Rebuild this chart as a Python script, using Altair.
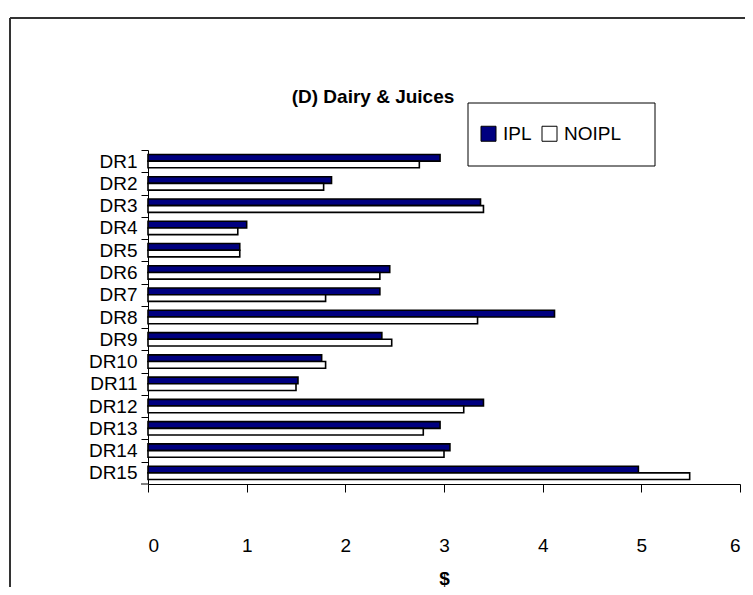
import altair as alt
import pandas as pd

categories = ["DR1", "DR2", "DR3", "DR4", "DR5", "DR6", "DR7", "DR8",
              "DR9", "DR10", "DR11", "DR12", "DR13", "DR14", "DR15"]
ipl = [2.96, 1.86, 3.37, 1.00, 0.93, 2.45, 2.35, 4.12, 2.37, 1.76, 1.52, 3.40, 2.96, 3.06, 4.97]
noipl = [2.75, 1.78, 3.40, 0.91, 0.93, 2.35, 1.80, 3.34, 2.47, 1.80, 1.50, 3.20, 2.79, 3.00, 5.49]
series = ["IPL", "NOIPL"]
series_colors = ["#000080", "#ffffff"]
x_ticks = [0, 1, 2, 3, 4, 5, 6]
title_text = "(D) Dairy & Juices"

rows = []
for c, a, b in zip(categories, ipl, noipl):
    rows.append({"cat": c, "series": series[0], "value": a})
    rows.append({"cat": c, "series": series[1], "value": b})
df = pd.DataFrame(rows)
one = pd.DataFrame({"title": [title_text]})

W, H = 592, 334
step = H / len(categories)
FONT = "Liberation Sans"
FS = 19

bars = alt.Chart(df).mark_bar(stroke="black", strokeWidth=1.6).encode(
    x=alt.X("value:Q",
            scale=alt.Scale(domain=[0, 6], nice=False, zero=True),
            axis=alt.Axis(values=x_ticks, title="$", format="d", grid=False,
                          tickSize=8, labelPadding=44, labelFontSize=FS,
                          labelFont=FONT, titleFont=FONT, titleFontSize=FS,
                          titleFontWeight="bold", titlePadding=14,
                          domainColor="black", tickColor="black",
                          labelColor="black", titleColor="black")),
    y=alt.Y("cat:N", sort=categories,
            scale=alt.Scale(paddingInner=0.4, paddingOuter=0.2),
            axis=alt.Axis(title=None, tickSize=7, labelPadding=4,
                          labelAlign="right", labelBaseline="middle",
                          labelFontSize=FS, labelFont=FONT, labelColor="black",
                          tickOffset=-step / 2, labelOffset=step / 2,
                          domainColor="black", tickColor="black")),
    yOffset=alt.YOffset("series:N", sort=series),
    fill=alt.Color("series:N", sort=series,
                   scale=alt.Scale(domain=series, range=series_colors),
                   legend=alt.Legend(title=None, orient="none", direction="horizontal",
                                     legendX=331, legendY=-26,
                                     symbolType="square", symbolSize=225,
                                     symbolStrokeColor="black", symbolStrokeWidth=1,
                                     symbolOpacity=1,
                                     labelFont=FONT, labelFontSize=FS, labelColor="black",
                                     labelOffset=5, columnPadding=8,
                                     padding=0)),
)

legend_box = alt.Chart(one).mark_rect(fill="white", stroke="black", strokeWidth=1).encode(
    x=alt.value(320), x2=alt.value(507), y=alt.value(-47), y2=alt.value(16))
title_mark = alt.Chart(one).mark_text(
    font=FONT, fontSize=FS, fontWeight="bold", color="black",
    align="center", baseline="middle").encode(
    text="title:N", x=alt.value(225), y=alt.value(-53))
bottom_tick = alt.Chart(one).mark_rule(color="black", strokeWidth=1).encode(
    x=alt.value(-7), x2=alt.value(0), y=alt.value(H))
border_top = alt.Chart(one).mark_rule(color="#333333", strokeWidth=2).encode(
    x=alt.value(-138), x2=alt.value(620), y=alt.value(-132))
border_left = alt.Chart(one).mark_rule(color="#333333", strokeWidth=2).encode(
    x=alt.value(-138), y=alt.value(-132), y2=alt.value(460))

chart = alt.layer(border_top, border_left, legend_box, bars, title_mark, bottom_tick).properties(
    width=W, height=H,
    autosize=alt.AutoSizeParams(type="none"),
    padding={"left": 140, "top": 142, "right": 5, "bottom": 103},
).configure_view(stroke=None)

chart.save("out.html", embed_options={"renderer": "svg", "actions": False})
